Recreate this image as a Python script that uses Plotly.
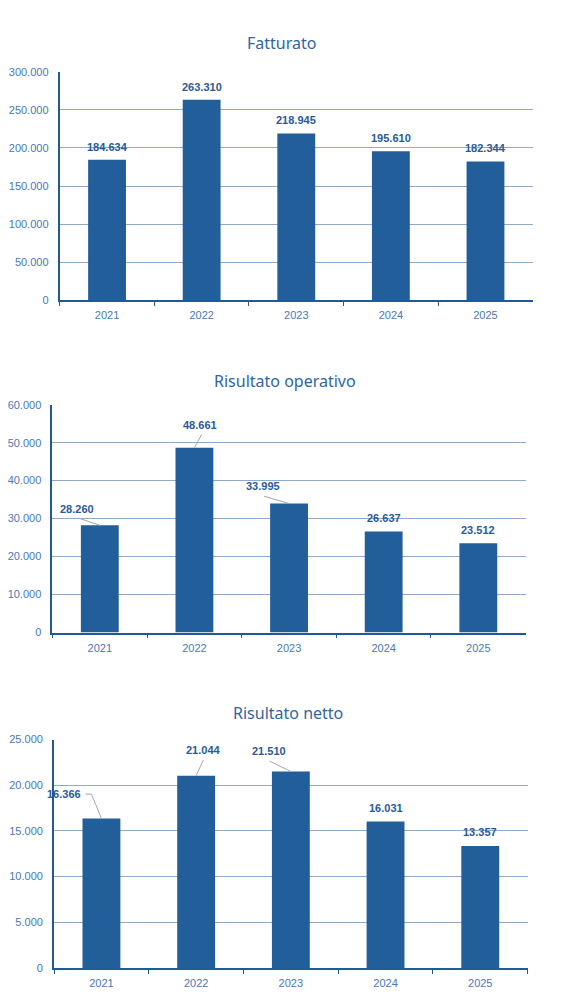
import plotly.graph_objects as go

W, H = 579, 1006

anni = ["2021", "2022", "2023", "2024", "2025"]
fatturato = [184634, 263310, 218945, 195610, 182344]
risultato_operativo = [28260, 48661, 33995, 26637, 23512]
risultato_netto = [16366, 21044, 21510, 16031, 13357]

titoli = ["Fatturato", "Risultato operativo", "Risultato netto"]
massimi = [300000, 60000, 25000]
passi = [50000, 10000, 5000]

BAR = "#215e9a"
AXIS = "#1f5a96"
GRID = "#8eacca"
LABEL = "#2a5a98"
TICK = "#4a78b4"
LEADER = "#a6a6a6"

# page offset seen in the rendered picture, compensated here
SX, SY, KY = 10.0, 13.5, 0.9884


def px(x):
    return x - SX


def py(y):
    return (y - SY) / KY


# plot areas in pixels: (left, right, top, bottom)
aree = [(59, 534.5, 71.3, 300), (51.7, 527.3, 404.3, 632.3), (53.3, 529.3, 739.3, 967.7)]
# title centres in pixels
pos_titoli = [(281.7, 43), (285.8, 380.5), (288.7, 713)]

# label offsets (dx, dy) in px from bar top centre, and leader line paths
offset_label = [
    [(0, 13), (0, 13), (0, 13), (0, 13), (0, 13)],
    [(-22.6, 16), (6, 22.4), (-25.6, 17.1), (0, 13.4), (0, 13)],
    [(-37.2, 24.2), (7.6, 25.4), (-22, 20.2), (0, 13.5), (0, 13.7)],
]
leader = [
    [None] * 5,
    [[(-21, 7), (0, 0)], [(7.2, 13.1), (0, 0)], [(-25, 7.1), (0, 0)], None, None],
    [[(-16, 24), (-10, 24), (0, 0)], [(7.2, 15.4), (0, 0)], [(-21.3, 10.2), (0, 0)], None, None],
]

serie = [fatturato, risultato_operativo, risultato_netto]

fig = go.Figure()
for i, valori in enumerate(serie):
    n = "" if i == 0 else str(i + 1)
    l, r, t, b = aree[i]
    fig.add_trace(go.Bar(
        x=anni, y=valori, xaxis="x" + n, yaxis="y" + n,
        marker=dict(color=BAR, line=dict(width=0)),
        width=0.4, hoverinfo="skip", showlegend=False,
    ))
    fig.update_layout({
        "xaxis" + n: dict(
            domain=[px(l) / W, px(r) / W], anchor="y" + n, type="category",
            range=[-0.5, len(anni) - 0.5], tickangle=0,
            showline=True, linecolor=AXIS, linewidth=1.5,
            ticks="outside", tickson="boundaries", ticklen=4, tickcolor=AXIS, tickwidth=1.2,
            ticklabelstandoff=4,
            showgrid=False, tickfont=dict(family="Liberation Sans", size=11, color=TICK),
            fixedrange=True,
        ),
        "yaxis" + n: dict(
            domain=[(H - py(b)) / H, (H - py(t)) / H], anchor="x" + n,
            range=[0, massimi[i]], dtick=passi[i], tick0=0, tickformat=",d",
            showline=True, linecolor=AXIS, linewidth=2,
            showgrid=True, gridcolor=GRID, gridwidth=1, zeroline=False,
            ticks="", ticklabelstandoff=7,
            tickfont=dict(family="Liberation Sans", size=11, color=TICK),
            fixedrange=True,
        ),
    })
    fig.add_annotation(
        text=titoli[i], xref="paper", yref="paper",
        x=px(pos_titoli[i][0]) / W, y=(H - py(pos_titoli[i][1])) / H,
        xanchor="center", yanchor="middle", showarrow=False,
        font=dict(family="Noto Sans", size=16, color="#2f66a3"),
    )
    for j, v in enumerate(valori):
        dx, dy = offset_label[i][j]
        fig.add_annotation(
            text="<b>" + f"{v:,}".replace(",", ".") + "</b>",
            xref="x" + n, yref="y" + n, x=j, y=v,
            xshift=dx, yshift=dy / KY, xanchor="center", yanchor="middle",
            showarrow=False,
            font=dict(family="Liberation Sans", size=11, color=LABEL),
        )
        if leader[i][j]:
            pts = leader[i][j]
            path = "M" + " L".join(f"{a},{c / KY:.1f}" for a, c in pts)
            fig.add_shape(
                type="path", xref="x" + n, yref="y" + n,
                xsizemode="pixel", ysizemode="pixel",
                xanchor=j, yanchor=v, path=path,
                line=dict(color=LEADER, width=1),
            )

fig.update_layout(
    width=W, height=H, margin=dict(l=0, r=0, t=0, b=0),
    paper_bgcolor="white", plot_bgcolor="white",
    separators=",.", bargap=0.6,
)

fig.write_html("out.html")
